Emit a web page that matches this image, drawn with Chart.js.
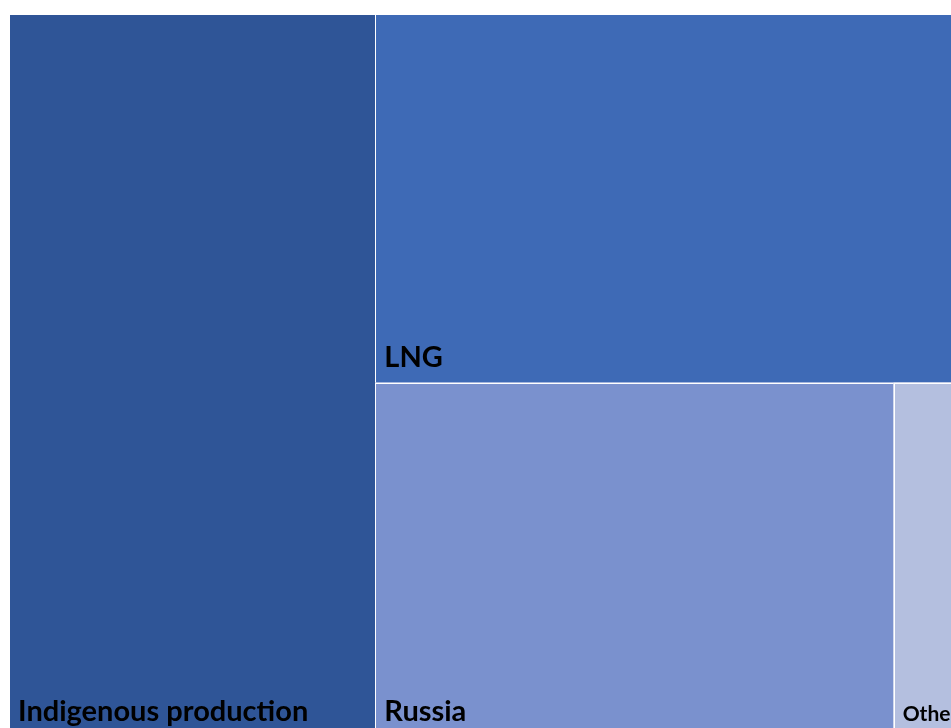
<!DOCTYPE html>
<html>
<head>
<meta charset="utf-8">
<script src="https://cdn.jsdelivr.net/npm/chart.js@4.4.1/dist/chart.umd.min.js"></script>
<style>
  html, body { margin: 0; padding: 0; background: #fff; overflow: hidden; }
  #wrap { position: absolute; left: 0; top: 0; width: 980px; height: 750px; }
</style>
</head>
<body>
<div id="wrap"><canvas id="chart" width="980" height="750"></canvas></div>
<script>
// gas supply shares
const labels = ['Indigenous production', 'LNG', 'Russia', 'Other'];
const values = [38.2, 31.5, 26.5, 3.8];
const colors = ['#2f5597', '#3e6ab6', '#7a91ce', '#b4bfdf'];

// squarified layout in a box of width `aspect` and height 1
function squarify(vals, box) {
  const total = vals.reduce((a, b) => a + b, 0);
  const areas = vals.map(v => v / total * box.w * box.h);
  const out = [];
  let rect = { x: box.x, y: box.y, w: box.w, h: box.h };
  let i = 0;

  function worst(row, side) {
    const s = row.reduce((a, b) => a + b, 0);
    let w = 0;
    row.forEach(a => {
      const r = Math.max((side * side * a) / (s * s), (s * s) / (side * side * a));
      if (r > w) w = r;
    });
    return w;
  }

  while (i < areas.length) {
    const side = Math.min(rect.w, rect.h);
    let row = [areas[i]];
    let j = i + 1;
    while (j < areas.length && worst(row.concat(areas[j]), side) <= worst(row, side)) {
      row.push(areas[j]);
      j++;
    }
    const s = row.reduce((a, b) => a + b, 0);
    if (rect.w >= rect.h) {
      // column on the left
      const cw = s / rect.h;
      let y = rect.y;
      row.forEach(a => {
        const h = a / cw;
        out.push({ x: rect.x, y: y, w: cw, h: h });
        y += h;
      });
      rect = { x: rect.x + cw, y: rect.y, w: rect.w - cw, h: rect.h };
    } else {
      // row across the top
      const rh = s / rect.w;
      let x = rect.x;
      row.forEach(a => {
        const w = a / rh;
        out.push({ x: x, y: rect.y, w: w, h: rh });
        x += w;
      });
      rect = { x: rect.x, y: rect.y + rh, w: rect.w, h: rect.h - rh };
    }
    i = j;
  }
  return out;
}

const treemapPlugin = {
  id: 'treemap',
  beforeDatasetsDraw(chart) {
    const ctx = chart.ctx;
    const xs = chart.scales.x;
    const ys = chart.scales.y;
    const area = chart.chartArea;
    const aspect = (area.right - area.left) / (area.bottom - area.top);
    const cells = squarify(values, { x: 0, y: 0, w: aspect, h: 1 });

    ctx.save();
    cells.forEach((c, k) => {
      const x0 = xs.getPixelForValue(c.x / aspect);
      const x1 = xs.getPixelForValue((c.x + c.w) / aspect);
      const y0 = ys.getPixelForValue(c.y);
      const y1 = ys.getPixelForValue(c.y + c.h);
      ctx.fillStyle = colors[k];
      ctx.fillRect(x0, y0, x1 - x0, y1 - y0);
      ctx.strokeStyle = '#ffffff';
      ctx.lineWidth = 1;
      ctx.strokeRect(Math.round(x0) + 0.5, Math.round(y0) + 0.5, x1 - x0, y1 - y0);

      const size = (x1 - x0) < 120 ? 21 : 29;
      ctx.fillStyle = '#000000';
      ctx.font = 'bold ' + size + 'px Lato';
      ctx.textAlign = 'left';
      ctx.textBaseline = 'alphabetic';
      ctx.fillText(labels[k], x0 + 9, y1 - 16);
    });
    ctx.restore();
  }
};

new Chart(document.getElementById('chart'), {
  type: 'scatter',
  data: { datasets: [{ data: [] }] },
  options: {
    responsive: false,
    animation: false,
    devicePixelRatio: 1,
    layout: { padding: { left: 9, top: 14, right: 12, bottom: 13 } },
    scales: {
      x: { type: 'linear', min: 0, max: 1, display: false },
      y: { type: 'linear', min: 0, max: 1, reverse: true, display: false }
    },
    plugins: { legend: { display: false }, tooltip: { enabled: false } }
  },
  plugins: [treemapPlugin]
});
</script>
</body>
</html>
